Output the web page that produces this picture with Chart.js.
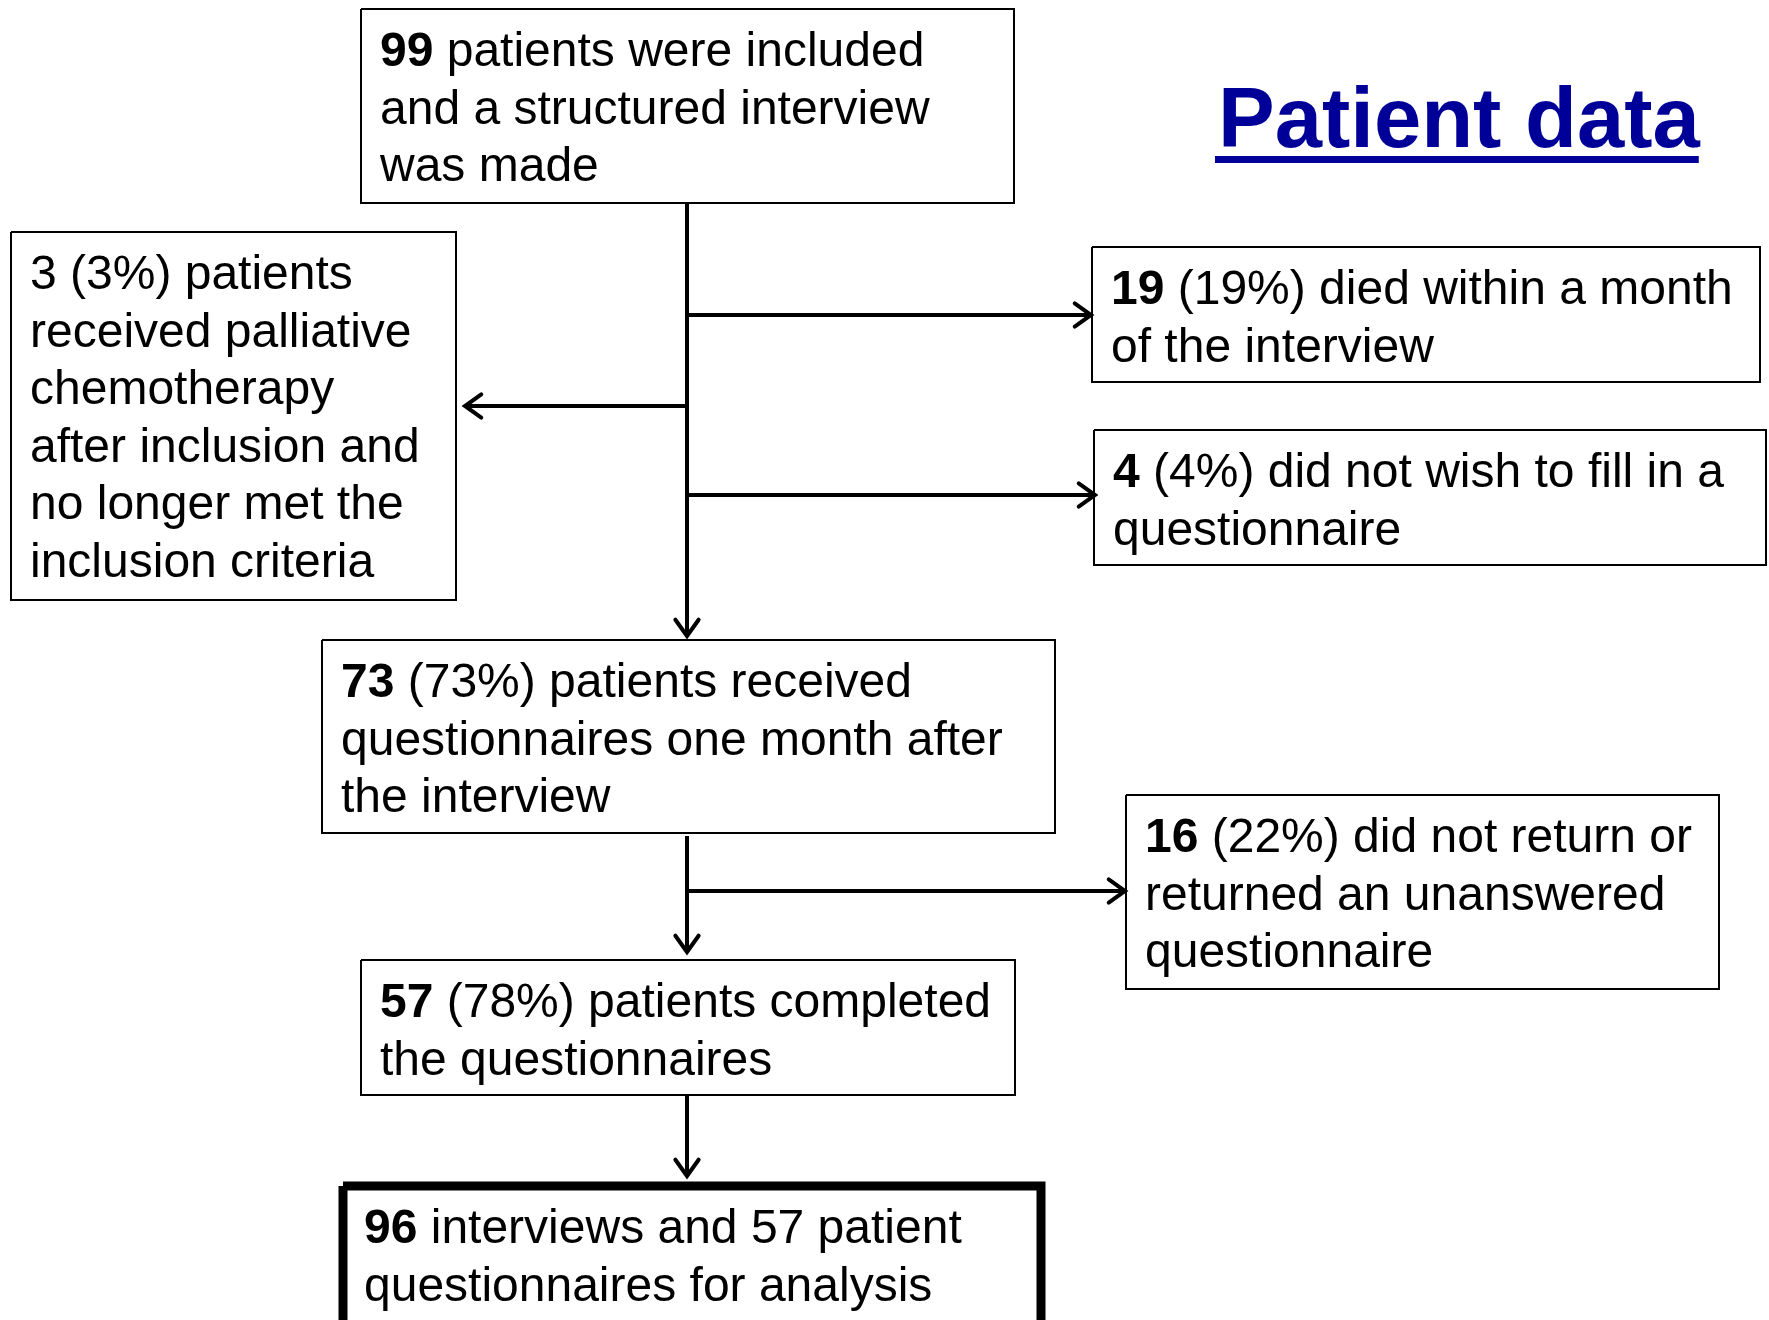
<!DOCTYPE html>
<html>
<head>
<meta charset="utf-8">
<script src="https://cdn.jsdelivr.net/npm/chart.js@4/dist/chart.umd.min.js"></script>
<style>
  body { margin: 0; background: #fff; }
  #wrap { width: 1769px; height: 1320px; }
</style>
</head>
<body>
<div id="wrap"><canvas id="flow" width="1769" height="1320"></canvas></div>
<script>
// Flow of patients through the study
const boxBold = ['99', '', '19', '4', '73', '16', '57', '96'];
const boxText = [
    [' patients were included', 'and a structured interview', 'was made'],
    ['3 (3%) patients', 'received palliative', 'chemotherapy', 'after inclusion and', 'no longer met the', 'inclusion criteria'],
    [' (19%) died within a month', 'of the interview'],
    [' (4%) did not wish to fill in a', 'questionnaire'],
    [' (73%) patients received', 'questionnaires one month after', 'the interview'],
    [' (22%) did not return or', 'returned an unanswered', 'questionnaire'],
    [' (78%) patients completed', 'the questionnaires'],
    [' interviews and 57 patient', 'questionnaires for analysis']
];
const titleText = 'Patient data';

// box layout in picture units: [left, top, right, bottom]
const boxRect = [
    [361, 9, 1014, 203],
    [11, 232, 456, 600],
    [1092, 247, 1760, 382],
    [1094, 430, 1766, 565],
    [322, 640, 1055, 833],
    [1126, 795, 1719, 989],
    [361, 960, 1015, 1095],
    [343, 1186, 1041, 1335]
];
// connectors: [x1, y1, x2, y2], arrowhead at the second point
const arrows = [
    [687, 203, 687, 636],
    [687, 315, 1091, 315],
    [685, 406, 465, 406],
    [687, 495, 1095, 495],
    [687, 836, 687, 952],
    [687, 891, 1125, 891],
    [687, 1095, 687, 1176]
];

const font = '"Liberation Sans", Arial, sans-serif';

const datasets = [];
boxRect.forEach((r, i) => {
    datasets.push({
        data: [{x: r[0], y: r[1]}, {x: r[2], y: r[1]}, {x: r[2], y: r[3]}, {x: r[0], y: r[3]}, {x: r[0], y: r[1]}],
        showLine: true,
        borderColor: '#000',
        borderWidth: i === 7 ? 9 : 2,
        borderJoinStyle: 'miter',
        pointRadius: 0,
        fill: false
    });
});
arrows.forEach(a => {
    datasets.push({
        data: [{x: a[0], y: a[1]}, {x: a[2], y: a[3]}],
        showLine: true,
        borderColor: '#000',
        borderWidth: 4,
        pointRadius: 0,
        fill: false
    });
});

const flowPlugin = {
    id: 'flowText',
    afterDatasetsDraw(chart) {
        const ctx = chart.ctx;
        const xs = chart.scales.x, ys = chart.scales.y;
        ctx.save();

        // arrowheads
        ctx.strokeStyle = '#000';
        ctx.lineWidth = 4;
        ctx.lineCap = 'round';
        arrows.forEach(a => {
            const x2 = xs.getPixelForValue(a[2]), y2 = ys.getPixelForValue(a[3]);
            const x1 = xs.getPixelForValue(a[0]), y1 = ys.getPixelForValue(a[1]);
            const ang = Math.atan2(y2 - y1, x2 - x1);
            const len = 20, spread = 0.62;
            ctx.beginPath();
            ctx.moveTo(x2 - len * Math.cos(ang - spread), y2 - len * Math.sin(ang - spread));
            ctx.lineTo(x2, y2);
            ctx.lineTo(x2 - len * Math.cos(ang + spread), y2 - len * Math.sin(ang + spread));
            ctx.stroke();
        });

        // box texts
        ctx.fillStyle = '#000';
        ctx.textBaseline = 'middle';
        ctx.textAlign = 'left';
        boxRect.forEach((r, i) => {
            const pad = i === 7 ? 21 : 19;
            const x0 = xs.getPixelForValue(r[0] + pad);
            boxText[i].forEach((line, j) => {
                const y = ys.getPixelForValue(r[1] + 44 + j * 57.5);
                let x = x0;
                if (j === 0 && boxBold[i]) {
                    ctx.font = 'bold 48px ' + font;
                    ctx.fillText(boxBold[i], x, y);
                    x += ctx.measureText(boxBold[i]).width;
                }
                ctx.font = '48px ' + font;
                ctx.fillText(line, x, y);
            });
        });

        // title
        ctx.fillStyle = '#000099';
        ctx.font = 'bold 85px ' + font;
        ctx.textBaseline = 'alphabetic';
        const tx = xs.getPixelForValue(1218), ty = ys.getPixelForValue(147);
        ctx.fillText(titleText, tx, ty);
        const w = ctx.measureText(titleText).width;
        ctx.fillRect(tx - 3, ys.getPixelForValue(156), w + 2, 7);
        ctx.restore();
    }
};

new Chart(document.getElementById('flow'), {
    type: 'scatter',
    data: { datasets: datasets },
    options: {
        responsive: false,
        animation: false,
        devicePixelRatio: 1,
        layout: { padding: 0 },
        plugins: { legend: { display: false }, tooltip: { enabled: false } },
        scales: {
            x: { type: 'linear', min: 0, max: 1769, display: false },
            y: { type: 'linear', min: 0, max: 1320, reverse: true, display: false }
        }
    },
    plugins: [flowPlugin]
});
</script>
</body>
</html>
